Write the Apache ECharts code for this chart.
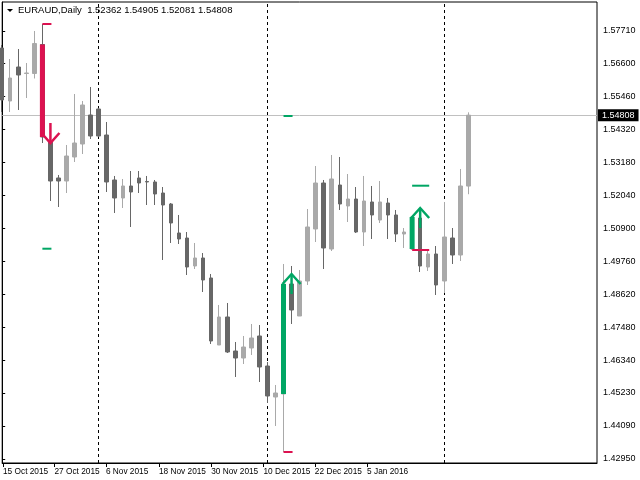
<!DOCTYPE html>
<html lang="en">
<head>
  <meta charset="UTF-8">
  <title>EURAUD, Daily</title>
  <script src="https://cdn.jsdelivr.net/npm/echarts@6/dist/echarts.min.js"></script>
  <style>
    html, body { margin: 0; padding: 0; background: #fff; }
    #chart { width: 640px; height: 480px; }
  </style>
</head>
<body>
<div id="chart"></div>
<script>
  // trading days (Mon-Fri, no 25 Dec / 1 Jan)
  var dates = [
    '2015.10.15','2015.10.16','2015.10.19','2015.10.20','2015.10.21','2015.10.22','2015.10.23','2015.10.26','2015.10.27','2015.10.28',
    '2015.10.29','2015.10.30','2015.11.02','2015.11.03','2015.11.04','2015.11.05','2015.11.06','2015.11.09','2015.11.10','2015.11.11',
    '2015.11.12','2015.11.13','2015.11.16','2015.11.17','2015.11.18','2015.11.19','2015.11.20','2015.11.23','2015.11.24','2015.11.25',
    '2015.11.26','2015.11.27','2015.11.30','2015.12.01','2015.12.02','2015.12.03','2015.12.04','2015.12.07','2015.12.08','2015.12.09',
    '2015.12.10','2015.12.11','2015.12.14','2015.12.15','2015.12.16','2015.12.17','2015.12.18','2015.12.21','2015.12.22','2015.12.23',
    '2015.12.24','2015.12.28','2015.12.29','2015.12.30','2015.12.31','2016.01.04','2016.01.05','2016.01.06','2016.01.07'
  ];

  var opens = [
    1.57124, 1.55296, 1.56468, 1.56244, 1.56244, 1.57244, 1.53882, 1.52641, 1.52537, 1.53365,
    1.53813, 1.54813, 1.55020, 1.54123, 1.52572, 1.51951, 1.52365, 1.52641, 1.52520, 1.52503,
    1.52123, 1.51744, 1.50744, 1.50571, 1.49606, 1.49882, 1.49192, 1.46881, 1.47847, 1.46674,
    1.46433, 1.46778, 1.47192, 1.46157, 1.45088, 1.45192, 1.48985, 1.47881, 1.49088, 1.50882,
    1.52468, 1.50192, 1.52399, 1.51675, 1.51916, 1.50778, 1.51813, 1.51192, 1.51778, 1.51365,
    1.50709, 1.50192, 1.51261, 1.49571, 1.50020, 1.49088, 1.50571, 1.49985, 1.52362
  ];
  var highs = [
    1.57227, 1.56744, 1.57089, 1.56606, 1.57710, 1.57951, 1.53951, 1.52744, 1.53779, 1.55537,
    1.55296, 1.55779, 1.55055, 1.54572, 1.52710, 1.52606, 1.52882, 1.52882, 1.52710, 1.52572,
    1.52330, 1.51778, 1.51365, 1.50778, 1.50399, 1.50054, 1.49330, 1.48261, 1.48330, 1.46985,
    1.47192, 1.47606, 1.47571, 1.46295, 1.45502, 1.49675, 1.49606, 1.49468, 1.51571, 1.53054,
    1.52572, 1.53434, 1.53365, 1.52778, 1.52330, 1.52710, 1.52365, 1.52537, 1.51951, 1.51537,
    1.50916, 1.51330, 1.51468, 1.50192, 1.50295, 1.51813, 1.50916, 1.52951, 1.54905
  ];
  var lows = [
    1.54917, 1.54917, 1.54986, 1.55399, 1.56072, 1.53847, 1.51847, 1.51640, 1.52123, 1.53192,
    1.53468, 1.53985, 1.54054, 1.52158, 1.51434, 1.51606, 1.50951, 1.52123, 1.51709, 1.51709,
    1.49813, 1.50399, 1.50364, 1.49295, 1.49502, 1.48709, 1.46916, 1.46881, 1.46605, 1.45778,
    1.46226, 1.46537, 1.45605, 1.44881, 1.44088, 1.43191, 1.47606, 1.47881, 1.48951, 1.50433,
    1.49502, 1.50123, 1.51537, 1.51123, 1.50744, 1.50295, 1.50537, 1.51089, 1.50537, 1.50433,
    1.50227, 1.50158, 1.49399, 1.49433, 1.48606, 1.48675, 1.49675, 1.49778, 1.52081
  ];
  var closes = [
    1.55330, 1.56089, 1.56193, 1.56262, 1.57279, 1.54054, 1.52537, 1.52537, 1.53399, 1.53847,
    1.55158, 1.54089, 1.54089, 1.52503, 1.51951, 1.52365, 1.52158, 1.52468, 1.52503, 1.52089,
    1.51709, 1.51089, 1.50537, 1.49571, 1.49882, 1.49123, 1.47019, 1.47847, 1.46640, 1.46433,
    1.46812, 1.47123, 1.46123, 1.45123, 1.45226, 1.48985, 1.48088, 1.49088, 1.50951, 1.52468,
    1.50227, 1.52606, 1.51744, 1.51916, 1.50778, 1.51847, 1.51365, 1.51813, 1.51365, 1.50709,
    1.50778, 1.51296, 1.49606, 1.50020, 1.48951, 1.50606, 1.49985, 1.52365, 1.54808
  ];

  // price scale labels on the right
  var yTicks = [1.57710, 1.56600, 1.55460, 1.54320, 1.53180, 1.52040, 1.50900,
                1.49760, 1.48620, 1.47480, 1.46340, 1.45230, 1.44090, 1.42950];

  // time scale labels (in bar units, as drawn by the terminal)
  var dateTickAt = [0.1, 6.5, 12.9, 19.5, 26.0, 32.5, 38.9, 45.4];
  var dateTickText = ['15 Oct 2015', '27 Oct 2015', '6 Nov 2015', '18 Nov 2015',
                      '30 Nov 2015', '10 Dec 2015', '22 Dec 2015', '5 Jan 2016'];

  // indicator signals
  var sigBar = [5, 35, 51];            // signal bar index
  var sigDir = [-1, 1, 1];             // -1 sell, 1 buy
  var sigEnd = [6, 36, 53];            // level lines run to this bar
  var sigStop = [1.57951, 1.43191, 1.50158];
  var sigTarget = [1.50202, 1.54779, 1.52375];
  var sigArrow = [1.53847, 1.49330, 1.51606];  // arrow tip price

  var BULL = '#a9a9a9', BEAR = '#676767';
  var GREEN = '#00a664', RED = '#dc1250';
  var FONT = 'Liberation Sans';

  var last = closes.length - 1;
  var candles = opens.map(function (o, i) { return [o, closes[i], lows[i], highs[i]]; });

  // first bar of each month -> period separators
  var separators = [];
  dates.forEach(function (d, i) {
    if (i > 0 && d.slice(5, 7) !== dates[i - 1].slice(5, 7)) separators.push({ xAxis: d });
  });

  var header = 'EURAUD,Daily  ' + [opens[last], highs[last], lows[last], closes[last]]
      .map(function (v) { return v.toFixed(5); }).join(' ');

  var chart = echarts.init(document.getElementById('chart'));

  var option = {
    animation: false,
    backgroundColor: '#fff',
    textStyle: { fontFamily: FONT },
    grid: { left: 2, right: 43, top: 2, bottom: 17, show: true, borderColor: '#000', borderWidth: 1 },
    graphic: [
      { type: 'polygon', shape: { points: [[7, 9], [13, 9], [10, 12]] }, style: { fill: '#000' } },
      { type: 'text', left: 18, top: 5, style: { text: header, font: '9.5px ' + FONT, fill: '#000' } }
    ],
    xAxis: [
      {
        type: 'category',
        data: dates,
        boundaryGap: false,
        max: 74,
        axisLine: { lineStyle: { color: '#000' } },
        axisTick: { show: false },
        axisLabel: { show: false },
        splitLine: { show: false }
      },
      {
        type: 'value',
        position: 'bottom',
        min: 0,
        max: 74,
        axisLine: { show: false },
        splitLine: { show: false },
        axisTick: { show: true, customValues: dateTickAt, length: 4, lineStyle: { color: '#000' } },
        axisLabel: {
          customValues: dateTickAt,
          align: 'left',
          margin: 5,
          fontSize: 8.3,
          color: '#000',
          formatter: function (v) {
            var i = dateTickAt.findIndex(function (t) { return Math.abs(t - v) < 1e-6; });
            return i >= 0 ? dateTickText[i] : '';
          }
        }
      }
    ],
    yAxis: {
      type: 'value',
      position: 'right',
      min: 1.42812,
      max: 1.58710,
      splitLine: { show: false },
      axisLine: { show: true, lineStyle: { color: '#000' } },
      axisTick: { show: true, customValues: yTicks, length: 3, lineStyle: { color: '#000' } },
      axisLabel: {
        customValues: yTicks,
        margin: 6,
        fontSize: 9,
        color: '#000',
        formatter: function (v) { return v.toFixed(5); }
      }
    },
    series: [
      {
        // period separators + current price line
        type: 'line',
        data: [],
        z: 1,
        markLine: {
          silent: true,
          z: 1,
          precision: 5,
          symbol: ['none', 'none'],
          data: separators.map(function (s) {
            return Object.assign({ lineStyle: { type: [3, 3], color: '#000', width: 1 }, label: { show: false } }, s);
          }).concat([{
            yAxis: closes[last],
            lineStyle: { type: 'solid', color: '#c0c0c0', width: 1 },
            label: {
              show: true,
              position: 'end',
              distance: 1,
              formatter: closes[last].toFixed(5),
              backgroundColor: '#000',
              color: '#fff',
              fontSize: 9,
              padding: [2, 4, 1, 4]
            }
          }])
        }
      },
      {
        type: 'candlestick',
        data: candles,
        barWidth: 4,
        z: 2,
        itemStyle: {
          color: BULL, color0: BEAR,
          borderColor: BULL, borderColor0: BEAR,
          borderWidth: 1
        }
      },
      {
        type: 'custom',
        z: 3,
        clip: true,
        data: sigBar.map(function (k, i) { return [k, sigArrow[i]]; }),
        encode: { x: 0, y: 1 },
        renderItem: function (params, api) {
          var i = params.dataIndex;
          var k = sigBar[i], d = sigDir[i];
          var col = d > 0 ? GREEN : RED;
          var o = opens[k], c = closes[k];
          var top = api.coord([k, Math.max(o, c)]);
          var bot = api.coord([k, Math.min(o, c)]);
          var s0 = api.coord([k, sigStop[i]]), s1 = api.coord([sigEnd[i], sigStop[i]]);
          var t0 = api.coord([k, sigTarget[i]]), t1 = api.coord([sigEnd[i], sigTarget[i]]);
          var tip = api.coord([k + 1, sigArrow[i]]);
          return {
            type: 'group',
            children: [
              { type: 'rect', shape: { x: top[0] - 2.5, y: top[1], width: 5, height: bot[1] - top[1] }, style: { fill: col } },
              { type: 'line', shape: { x1: s0[0], y1: s0[1], x2: s1[0] + 1, y2: s1[1] }, style: { stroke: RED, lineWidth: 2 } },
              { type: 'line', shape: { x1: t0[0], y1: t0[1], x2: t1[0] + 1, y2: t1[1] }, style: { stroke: GREEN, lineWidth: 2 } },
              { type: 'line', shape: { x1: tip[0], y1: tip[1], x2: tip[0], y2: tip[1] + 20 * d }, style: { stroke: col, lineWidth: 2.5 } },
              { type: 'polyline', shape: { points: [[tip[0] - 9, tip[1] + 10 * d], [tip[0], tip[1]], [tip[0] + 9, tip[1] + 10 * d]] },
                style: { stroke: col, lineWidth: 2.5, fill: null } }
            ]
          };
        }
      }
    ]
  };

  chart.setOption(option);
</script>
</body>
</html>
